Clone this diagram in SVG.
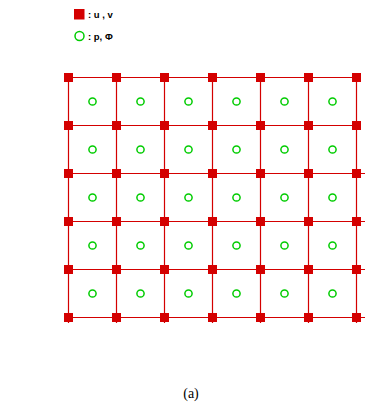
<svg xmlns="http://www.w3.org/2000/svg" width="365" height="407" viewBox="0 0 365 407">
<defs>
<style>
.ln{stroke:#d40000;stroke-width:1.2;fill:none}
.sq{fill:#d40000}
.ci{fill:none;stroke:#00cc00;stroke-width:1.5}
.lg{font-family:"Liberation Sans",Arial,sans-serif;font-weight:bold;font-size:9.5px;fill:#000}
.cap{font-family:"Liberation Serif","Times New Roman",serif;font-size:14px;fill:#000}
</style>
<rect id="u" class="sq" x="-4.5" y="-4.5" width="9" height="9"/>
<circle id="p" class="ci" r="3.6"/>
</defs>
<rect width="365" height="407" fill="#fff"/>
<g id="legend">
<rect class="sq" x="74" y="9" width="10.5" height="10.5"/>
<text class="lg" x="88" y="18">: u , v</text>
<circle class="ci" cx="79.5" cy="36" r="4.5" stroke-width="1.8"/>
<text class="lg" x="88" y="39.5">: p, Φ</text>
</g>
<g id="connectors">
<path class="ln" d="M68.5 77.5H356.5M68.5 125.5H356.5M68.5 173.5H365M68.5 221.5H365M68.5 269.5H365M68.5 317.5H365"/>
<path class="ln" d="M68.5 77.5V323M116.5 77.5V323M164.5 77.5V323M212.5 77.5V323M260.5 77.5V323M308.5 77.5V323M356.5 77.5V323"/>
</g>
<g id="velocity-nodes">
<use href="#u" x="68.5" y="77.5"/><use href="#u" x="116.5" y="77.5"/><use href="#u" x="164.5" y="77.5"/><use href="#u" x="212.5" y="77.5"/><use href="#u" x="260.5" y="77.5"/><use href="#u" x="308.5" y="77.5"/><use href="#u" x="356.5" y="77.5"/>
<use href="#u" x="68.5" y="125.5"/><use href="#u" x="116.5" y="125.5"/><use href="#u" x="164.5" y="125.5"/><use href="#u" x="212.5" y="125.5"/><use href="#u" x="260.5" y="125.5"/><use href="#u" x="308.5" y="125.5"/><use href="#u" x="356.5" y="125.5"/>
<use href="#u" x="68.5" y="173.5"/><use href="#u" x="116.5" y="173.5"/><use href="#u" x="164.5" y="173.5"/><use href="#u" x="212.5" y="173.5"/><use href="#u" x="260.5" y="173.5"/><use href="#u" x="308.5" y="173.5"/><use href="#u" x="356.5" y="173.5"/>
<use href="#u" x="68.5" y="221.5"/><use href="#u" x="116.5" y="221.5"/><use href="#u" x="164.5" y="221.5"/><use href="#u" x="212.5" y="221.5"/><use href="#u" x="260.5" y="221.5"/><use href="#u" x="308.5" y="221.5"/><use href="#u" x="356.5" y="221.5"/>
<use href="#u" x="68.5" y="269.5"/><use href="#u" x="116.5" y="269.5"/><use href="#u" x="164.5" y="269.5"/><use href="#u" x="212.5" y="269.5"/><use href="#u" x="260.5" y="269.5"/><use href="#u" x="308.5" y="269.5"/><use href="#u" x="356.5" y="269.5"/>
<use href="#u" x="68.5" y="317.5"/><use href="#u" x="116.5" y="317.5"/><use href="#u" x="164.5" y="317.5"/><use href="#u" x="212.5" y="317.5"/><use href="#u" x="260.5" y="317.5"/><use href="#u" x="308.5" y="317.5"/><use href="#u" x="356.5" y="317.5"/>
</g>
<g id="pressure-nodes">
<use href="#p" x="92.5" y="101.5"/><use href="#p" x="140.5" y="101.5"/><use href="#p" x="188.5" y="101.5"/><use href="#p" x="236.5" y="101.5"/><use href="#p" x="284.5" y="101.5"/><use href="#p" x="332.5" y="101.5"/>
<use href="#p" x="92.5" y="149.5"/><use href="#p" x="140.5" y="149.5"/><use href="#p" x="188.5" y="149.5"/><use href="#p" x="236.5" y="149.5"/><use href="#p" x="284.5" y="149.5"/><use href="#p" x="332.5" y="149.5"/>
<use href="#p" x="92.5" y="197.5"/><use href="#p" x="140.5" y="197.5"/><use href="#p" x="188.5" y="197.5"/><use href="#p" x="236.5" y="197.5"/><use href="#p" x="284.5" y="197.5"/><use href="#p" x="332.5" y="197.5"/>
<use href="#p" x="92.5" y="245.5"/><use href="#p" x="140.5" y="245.5"/><use href="#p" x="188.5" y="245.5"/><use href="#p" x="236.5" y="245.5"/><use href="#p" x="284.5" y="245.5"/><use href="#p" x="332.5" y="245.5"/>
<use href="#p" x="92.5" y="293.5"/><use href="#p" x="140.5" y="293.5"/><use href="#p" x="188.5" y="293.5"/><use href="#p" x="236.5" y="293.5"/><use href="#p" x="284.5" y="293.5"/><use href="#p" x="332.5" y="293.5"/>
</g>
<text class="cap" x="191" y="398" text-anchor="middle">(a)</text>
</svg>
